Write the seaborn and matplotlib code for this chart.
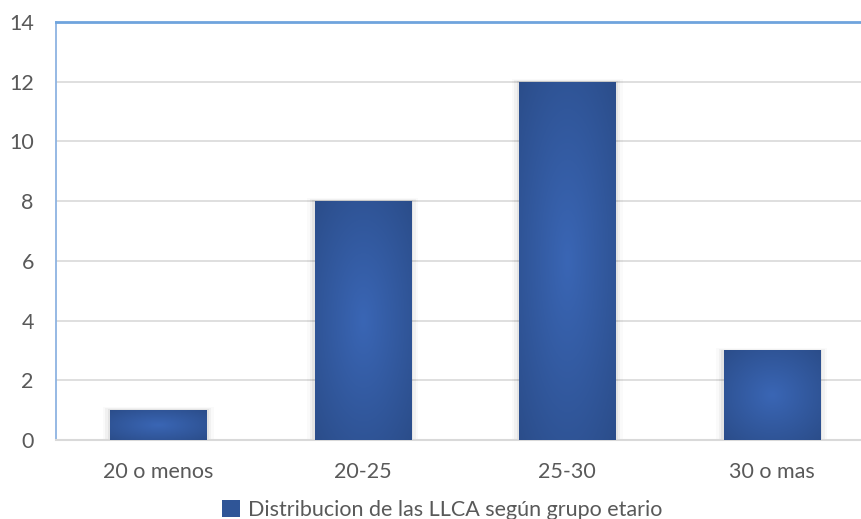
import numpy as np
import pandas as pd
import matplotlib
matplotlib.use("Agg")
import matplotlib.pyplot as plt
import seaborn as sns
from matplotlib.patches import Patch

categories = ["20 o menos", "20-25", "25-30", "30 o mas"]
values = [1, 8, 12, 3]
series_name = "Distribucion de las LLCA según grupo etario"
yticks = [0, 2, 4, 6, 8, 10, 12, 14]

sns.set_theme(style="white")
plt.rcParams['font.family'] = ['Lato', 'DejaVu Sans']

fig = plt.figure(figsize=(8.61, 5.19), dpi=100)
ax = fig.add_axes([56/861, 79/519, (874-56)/861, (440-22)/519])

df = pd.DataFrame({"cat": categories, "val": values})
sns.barplot(data=df, x="cat", y="val", ax=ax, color="#2f5597", width=0.47,
            saturation=1, edgecolor="none", zorder=3)

ax.set_xlim(-0.5, 3.5)
ax.set_ylim(0, 14)
ax.set_yticks(yticks)
ax.set_xlabel("")
ax.set_ylabel("")
ax.yaxis.grid(True, color="#d9d9d9", linewidth=1.2, zorder=0)
ax.set_axisbelow(True)
ax.tick_params(axis="y", length=0, pad=16, labelsize=15.5, labelcolor="#595959")
ax.tick_params(axis="x", length=0, pad=16, labelsize=15.5, labelcolor="#595959")

ax.spines["right"].set_visible(False)
ax.spines["left"].set_color("#8db3e2")
ax.spines["left"].set_linewidth(1.3)
ax.spines["top"].set_color("#6fa4dd")
ax.spines["top"].set_linewidth(2)
ax.spines["bottom"].set_color("#d9d9d9")
ax.spines["bottom"].set_linewidth(1.5)

# radial gradient fill on each bar
c_center = np.array([0x3a, 0x66, 0xb5]) / 255
c_edge = np.array([0x2b, 0x4d, 0x8a]) / 255
n = 200
yy, xx = np.mgrid[-1:1:n*1j, -1:1:n*1j]
r = np.clip(np.sqrt(xx**2 + yy**2) / np.sqrt(2), 0, 1)
img = c_center[None, None, :] * (1 - r[..., None]) + c_edge[None, None, :] * r[..., None]

for p in list(ax.patches):
    x0, y0 = p.get_x(), p.get_y()
    w, h = p.get_width(), p.get_height()
    # soft shadow at the sides
    for k, a in enumerate([0.05, 0.035, 0.02]):
        dx = 0.012 * (k + 1)
        dy = 0.03 * (k + 1)
        sh = plt.Rectangle((x0 - dx, y0), w + 2 * dx, h + dy, color="black",
                           alpha=a, lw=0, zorder=2)
        ax.add_patch(sh)
    im = ax.imshow(img, extent=[x0, x0 + w, y0, y0 + h], aspect="auto",
                   zorder=4, interpolation="bilinear")
    im.set_clip_path(p)

ax.set_xlim(-0.5, 3.5)
ax.set_ylim(0, 14)

handle = Patch(facecolor="#2f5597", edgecolor="none")
fig.legend([handle], [series_name], loc="center", bbox_to_anchor=(0.514, 1 - 510/519),
           frameon=False, fontsize=15.5, handlelength=0.8, handleheight=0.8,
           handletextpad=0.4, labelcolor="#595959")

fig.savefig("out.png", dpi=100)
